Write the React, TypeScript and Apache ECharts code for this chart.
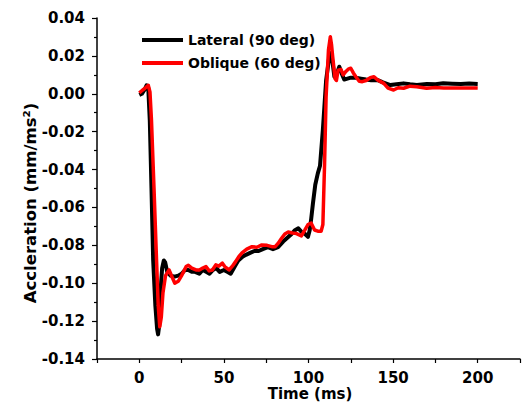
import React, { useEffect, useRef } from "react";
import * as echarts from "echarts";

const lateralTime = [0, 1.5, 3, 4.3, 5.3, 6.2, 7.2, 8.2, 9.5, 10.5, 11.1, 11.8, 12.5, 13.5, 14.5, 15.3, 16.5, 18.5, 20.9, 23, 25, 27, 29, 31, 33, 35.5, 37.5, 39.5, 41.5, 43.5, 45.5, 47.5, 50, 52, 54, 56.5, 58.5, 61, 63, 65.5, 68, 70.5, 73, 76, 79, 82, 85, 87.5, 90, 92, 94, 96, 98, 99.7, 100.7, 101.6, 102.6, 104, 105.5, 106.8, 108.5, 110.4, 112.4, 113.3, 114.3, 115.3, 116.5, 118.2, 119.5, 121.1, 123, 125, 128, 131, 134, 137, 140.6, 144, 148.4, 152, 156.2, 160, 164, 170, 175, 179.6, 185, 190, 195, 200];
const lateralAccel = [-0.0006, 0.0, 0.002, 0.0045, 0.003, -0.014, -0.05, -0.088, -0.112, -0.124, -0.127, -0.122, -0.105, -0.092, -0.088, -0.089, -0.094, -0.096, -0.0965, -0.096, -0.095, -0.093, -0.093, -0.094, -0.094, -0.095, -0.093, -0.094, -0.095, -0.093, -0.092, -0.094, -0.093, -0.094, -0.095, -0.091, -0.088, -0.086, -0.085, -0.084, -0.083, -0.083, -0.082, -0.081, -0.082, -0.081, -0.078, -0.076, -0.074, -0.072, -0.071, -0.073, -0.074, -0.0755, -0.072, -0.066, -0.058, -0.048, -0.042, -0.038, -0.019, 0.007, 0.0205, 0.0215, 0.016, 0.009, 0.01, 0.0143, 0.011, 0.0075, 0.008, 0.0085, 0.0085, 0.008, 0.0075, 0.0072, 0.0073, 0.006, 0.0046, 0.005, 0.0055, 0.005, 0.0046, 0.0052, 0.005, 0.0055, 0.0053, 0.0052, 0.0054, 0.0052];

const obliqueTime = [0, 2, 3.5, 5.3, 6.3, 7.2, 8.7, 10.2, 11.2, 12.1, 13, 14, 15.5, 17.6, 19.5, 21, 23, 25, 27.7, 29, 31, 33.5, 35.5, 37.5, 39.4, 41.3, 43.2, 45.2, 47, 49.1, 50.5, 53, 55, 56.9, 58.8, 60.7, 63.5, 66.6, 69.5, 72.4, 75.5, 78.3, 80.3, 82, 84.1, 86, 88, 90.5, 92.9, 95.8, 97.8, 99.7, 101.6, 103.6, 105.5, 107.5, 108.5, 109.5, 110.4, 111.8, 112.9, 113.6, 114.3, 115.7, 116.5, 117.5, 119.2, 120.5, 122.1, 123.5, 125, 126.5, 128, 130, 131.8, 134, 136.5, 138.7, 141, 144.5, 147, 150.3, 153, 156.2, 160, 164, 169.8, 175, 180, 185, 190, 195, 200];
const obliqueAccel = [0.0005, 0.002, 0.003, 0.0045, 0.001, -0.014, -0.05, -0.088, -0.112, -0.123, -0.118, -0.105, -0.096, -0.093, -0.097, -0.1, -0.099, -0.096, -0.0912, -0.0905, -0.092, -0.093, -0.093, -0.092, -0.0912, -0.0935, -0.093, -0.0903, -0.091, -0.0894, -0.0912, -0.093, -0.091, -0.0886, -0.086, -0.084, -0.082, -0.0807, -0.081, -0.0798, -0.08, -0.0807, -0.0807, -0.079, -0.0763, -0.074, -0.073, -0.0735, -0.0738, -0.075, -0.072, -0.069, -0.0683, -0.0719, -0.0725, -0.0725, -0.069, -0.037, -0.0015, 0.0231, 0.0301, 0.026, 0.0196, 0.008, 0.007, 0.0125, 0.0128, 0.01, 0.0118, 0.013, 0.0135, 0.011, 0.009, 0.0066, 0.0064, 0.007, 0.0085, 0.009, 0.0072, 0.0055, 0.003, 0.002, 0.0032, 0.0029, 0.004, 0.0037, 0.0029, 0.0033, 0.003, 0.0031, 0.003, 0.0031, 0.003];

const seriesNames = ["Lateral (90 deg)", "Oblique (60 deg)"];
const xLabelValues = [0, 50, 100, 150, 200];
const xTitle = "Time (ms)";
const yTitle = "Accleration (mm/ms²)";

const FONT = "DejaVu Sans";

export default function App() {
  const ref = useRef<HTMLDivElement>(null);
  useEffect(() => {
    if (!ref.current) return;
    const chart = echarts.init(ref.current, undefined, { renderer: "svg" });
    const lat = lateralTime.map((t, i) => [t, lateralAccel[i]]);
    const obl = obliqueTime.map((t, i) => [t, obliqueAccel[i]]);
    chart.setOption({
      animation: false,
      backgroundColor: "#ffffff",
      grid: { left: 97, right: 7, top: 18, bottom: 51 },
      legend: {
        left: 137,
        top: 26,
        orient: "vertical",
        icon: "rect",
        itemWidth: 41,
        itemHeight: 4,
        itemGap: 5,
        textStyle: { fontFamily: FONT, fontWeight: "bold", fontSize: 14, color: "#000", lineHeight: 18 },
        data: seriesNames,
      },
      xAxis: {
        type: "value",
        min: -25,
        max: 225,
        interval: 25,
        axisLine: { show: true, onZero: false, lineStyle: { color: "#000", width: 1.5 } },
        axisTick: { show: true, length: 4, lineStyle: { color: "#000", width: 1.2 } },
        splitLine: { show: false },
        axisLabel: {
          margin: 11,
          fontFamily: FONT,
          fontWeight: "bold",
          fontSize: 15,
          color: "#000",
          formatter: (v: number) => (xLabelValues.includes(v) ? String(v) : ""),
        },
      },
      yAxis: {
        type: "value",
        min: -0.14,
        max: 0.04,
        interval: 0.02,
        axisLine: { show: true, onZero: false, lineStyle: { color: "#000", width: 1.5 } },
        axisTick: { show: true, length: 5, lineStyle: { color: "#000", width: 1.2 } },
        minorTick: { show: true, splitNumber: 2, length: 3, lineStyle: { color: "#000", width: 1.2 } },
        splitLine: { show: false },
        axisLabel: {
          margin: 12,
          fontFamily: FONT,
          fontWeight: "bold",
          fontSize: 15,
          color: "#000",
          formatter: (v: number) => v.toFixed(2),
        },
      },
      graphic: [
        {
          type: "text",
          x: 310,
          y: 394,
          style: { text: xTitle, fontFamily: FONT, fontWeight: "bold", fontSize: 15, fill: "#000", align: "center", verticalAlign: "middle" },
        },
        {
          type: "text",
          x: 30,
          y: 203,
          rotation: Math.PI / 2,
          style: { text: yTitle, fontFamily: FONT, fontWeight: "bold", fontSize: 16.5, fill: "#000", align: "center", verticalAlign: "middle" },
        },
      ],
      series: [
        {
          name: seriesNames[0],
          type: "line",
          data: lat,
          showSymbol: false,
          symbol: "none",
          lineStyle: { color: "#000000", width: 4, join: "round" },
          itemStyle: { color: "#000000" },
          z: 2,
        },
        {
          name: seriesNames[1],
          type: "line",
          data: obl,
          showSymbol: false,
          symbol: "none",
          lineStyle: { color: "#ff0000", width: 3.5, join: "round" },
          itemStyle: { color: "#ff0000" },
          z: 3,
        },
      ],
    });
    return () => chart.dispose();
  }, []);
  return <div ref={ref} style={{ width: 527, height: 410, position: "absolute", left: 0, top: 0 }} />;
}
